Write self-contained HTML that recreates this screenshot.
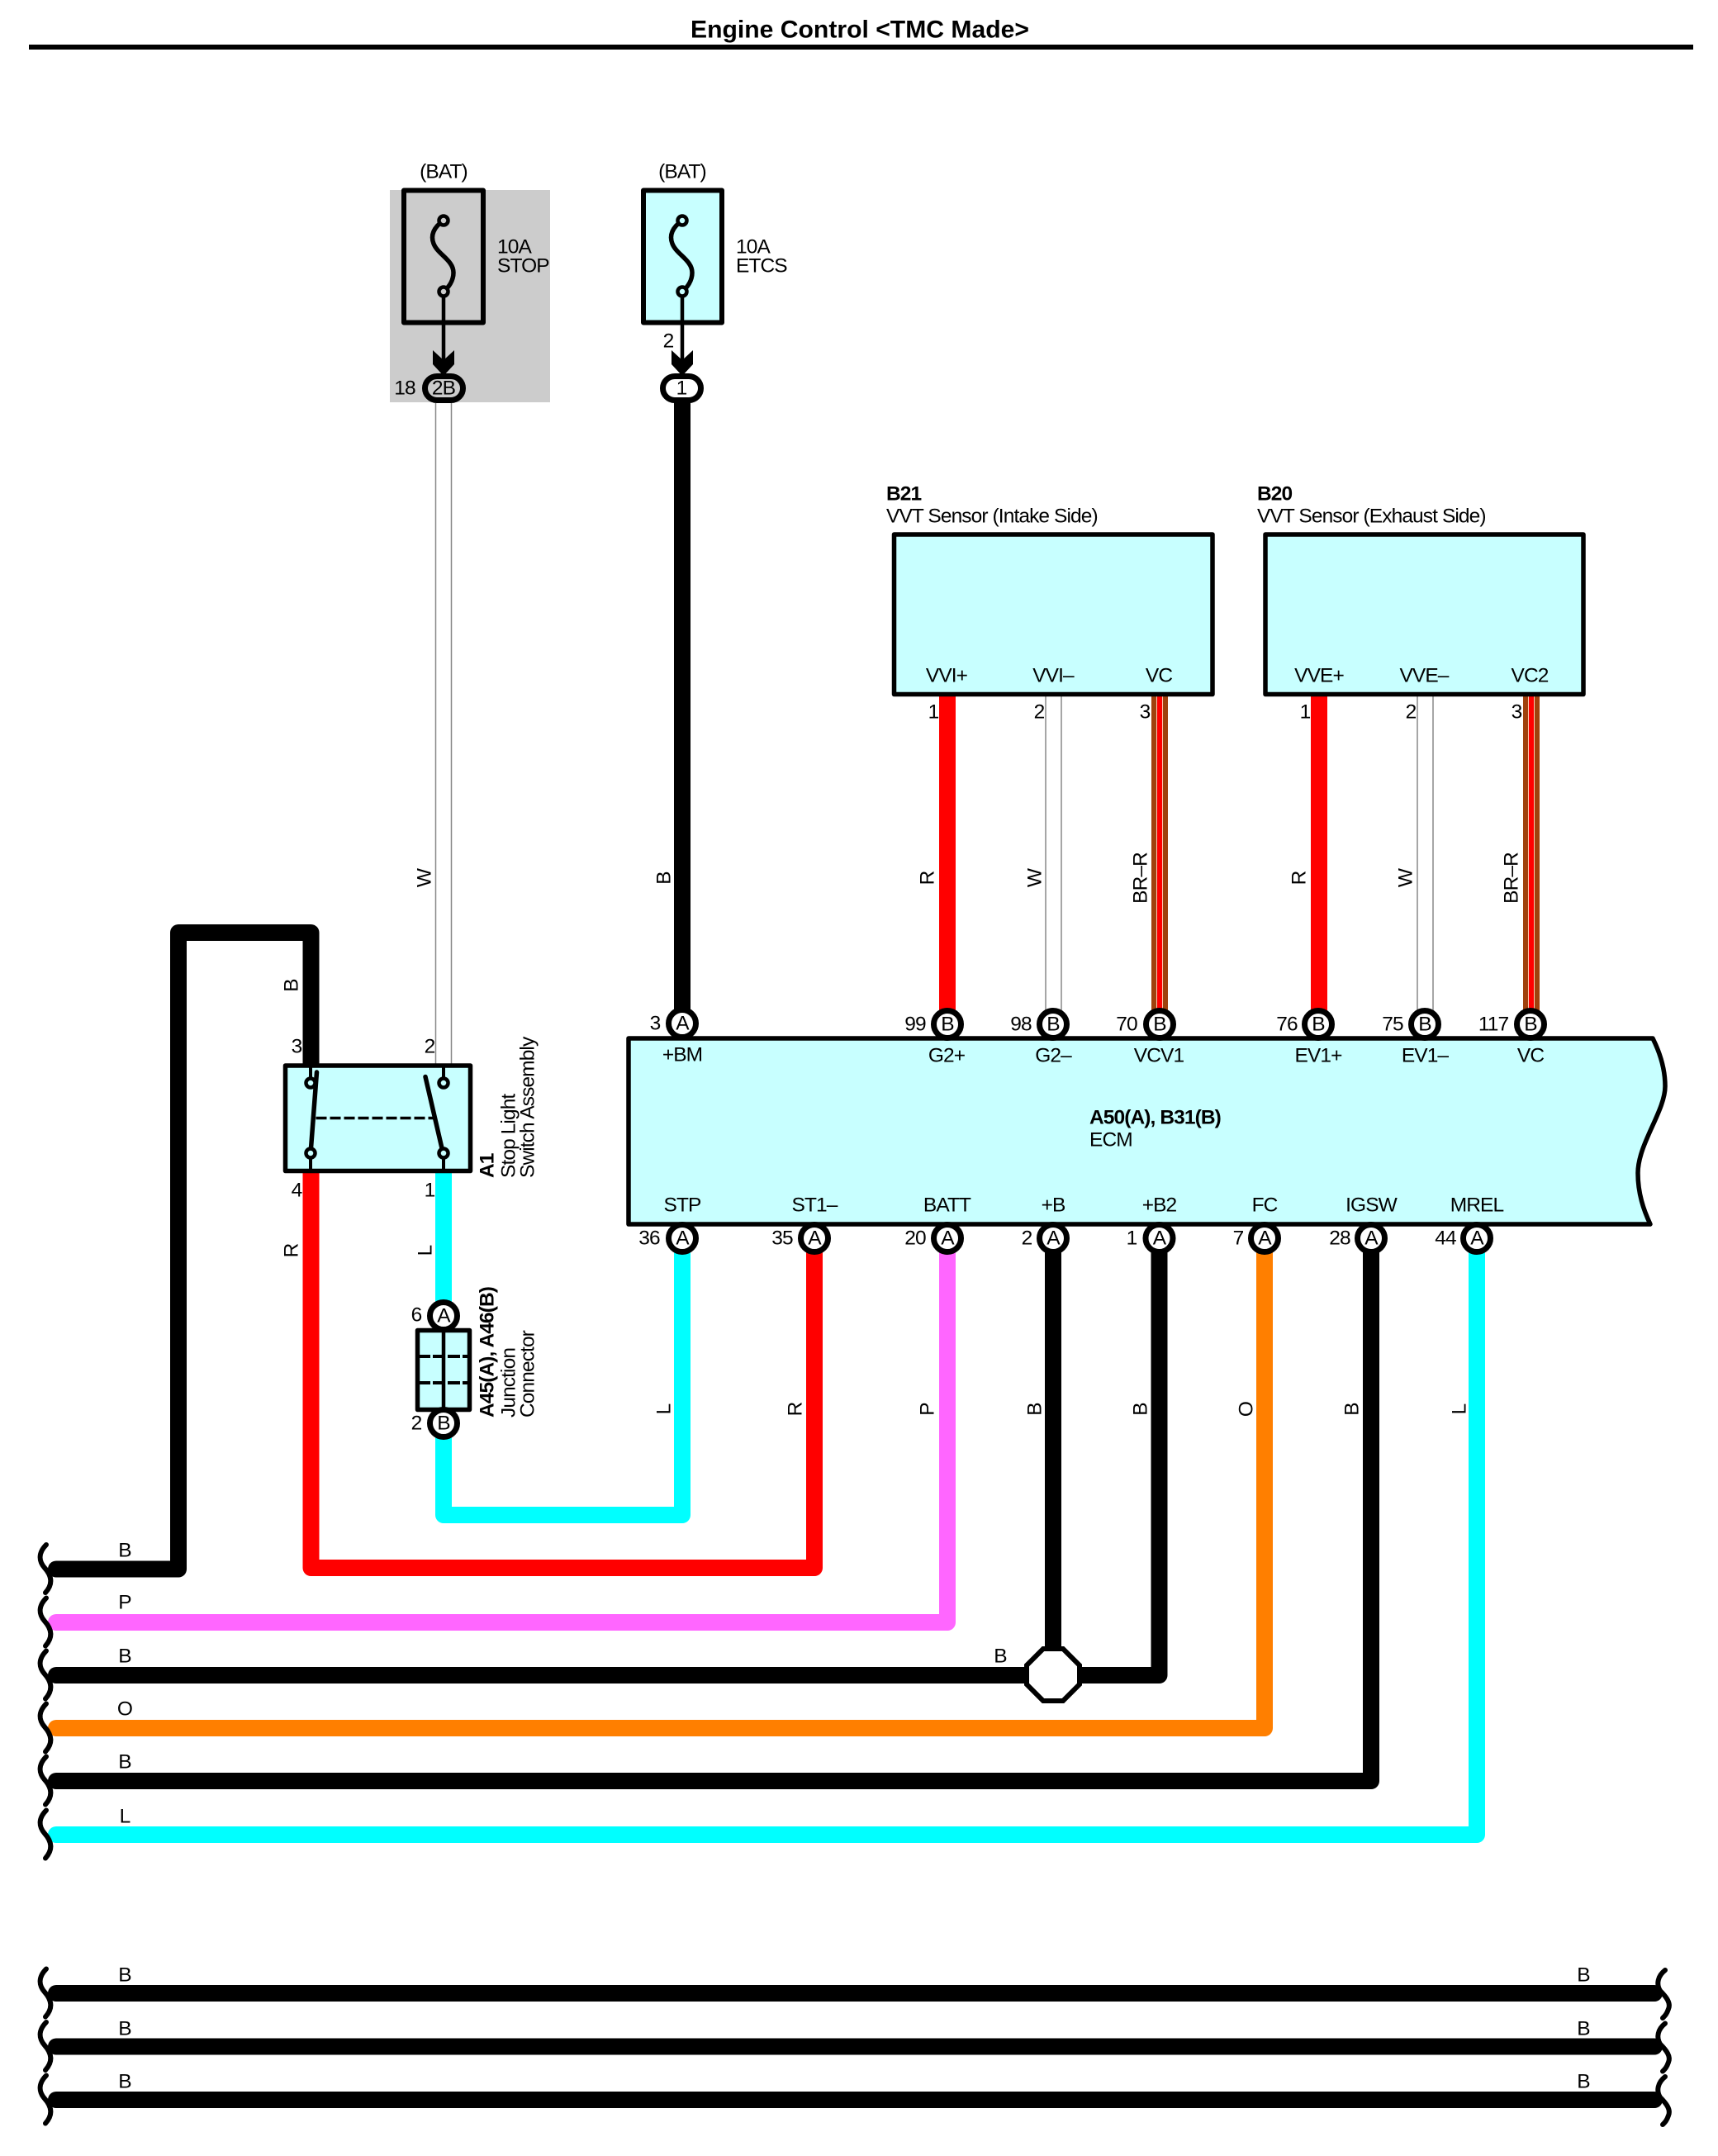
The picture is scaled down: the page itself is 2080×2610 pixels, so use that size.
<!DOCTYPE html>
<html>
<head>
<meta charset="utf-8">
<style>
html,body{margin:0;padding:0;background:#fff}
svg{display:block}
text{font-family:"Liberation Sans",sans-serif;font-size:24.5px;letter-spacing:-.9px;fill:#000;dominant-baseline:central;text-anchor:middle}
.s{text-anchor:start}
.b{font-weight:bold}
.w{fill:none;stroke-width:20;stroke-linejoin:round;stroke-linecap:round}
.box{fill:#c8ffff;stroke:#000;stroke-width:5.5;stroke-linejoin:round}
.c{fill:#fff;stroke:#000;stroke-width:7}
.l{fill:none;stroke:#000;stroke-width:5.5;stroke-linecap:round}
.curl{fill:none;stroke:#000;stroke-width:6;stroke-linecap:round}
.g{fill:none;stroke:#888;stroke-width:1.5}
</style>
</head>
<body>
<svg width="2080" height="2610" viewBox="0 0 2080 2610" xmlns="http://www.w3.org/2000/svg">
<rect width="2080" height="2610" fill="#fff"/>

<!-- title -->
<text x="1041" y="36" class="b" style="font-size:30px;letter-spacing:0" textLength="410" lengthAdjust="spacingAndGlyphs">Engine Control &lt;TMC Made&gt;</text>
<rect x="35" y="54" width="2015" height="6" fill="#000"/>

<!-- grey zone -->
<rect x="472" y="230" width="194" height="257" fill="#ccc"/>

<!-- wires top -->
<path class="g" d="M527.5 488V1288M546.5 488V1288"/>
<path class="w" stroke="#000" d="M826 480V1225"/>
<path class="w" stroke="#f00" d="M1147 843V1225"/>
<path class="g" d="M1266 843V1225M1285 843V1225"/>
<path class="w" stroke="#a0410d" d="M1404 843V1225"/>
<path fill="none" stroke="#ffc8b0" stroke-width="8" d="M1404 843V1225"/>
<path fill="none" stroke="#f00" stroke-width="6" d="M1404 843V1225"/>
<path class="w" stroke="#f00" d="M1597 843V1225"/>
<path class="g" d="M1716 843V1225M1735 843V1225"/>
<path class="w" stroke="#a0410d" d="M1854 843V1225"/>
<path fill="none" stroke="#ffc8b0" stroke-width="8" d="M1854 843V1225"/>
<path fill="none" stroke="#f00" stroke-width="6" d="M1854 843V1225"/>

<!-- wires bottom -->
<path class="w" stroke="#000" d="M68 1899.5H216V1129H376.5V1290"/>
<path class="w" stroke="#f00" d="M376.5 1418V1898H986V1515"/>
<path class="w" stroke="#0ff" d="M537 1418V1580M537 1735V1834H826V1515"/>
<path class="w" stroke="#f6f" d="M68 1964H1147V1515"/>
<path class="w" stroke="#000" d="M68 2028H1245M1275 1515V2000M1305 2028H1403.5V1515"/>
<path class="w" stroke="#ff7f00" d="M68 2092H1531V1515"/>
<path class="w" stroke="#000" d="M68 2156H1660V1515"/>
<path class="w" stroke="#0ff" d="M68 2221H1788V1515"/>
<path class="w" stroke="#000" d="M68 2413H2003M68 2477.5H2003M68 2542H2003"/>

<!-- left curls -->
<g>
<path class="curl" d="M56 1870C46 1880 47 1890 54 1898C63 1908 64 1918 55 1928"/>
<path class="curl" d="M56 1934.5C46 1944.5 47 1954.5 54 1962.5C63 1972.5 64 1982.5 55 1992.5"/>
<path class="curl" d="M56 1998.5C46 2008.5 47 2018.5 54 2026.5C63 2036.5 64 2046.5 55 2056.5"/>
<path class="curl" d="M56 2062.5C46 2072.5 47 2082.5 54 2090.5C63 2100.5 64 2110.5 55 2120.5"/>
<path class="curl" d="M56 2126.5C46 2136.5 47 2146.5 54 2154.5C63 2164.5 64 2174.5 55 2184.5"/>
<path class="curl" d="M56 2191.5C46 2201.5 47 2211.5 54 2219.5C63 2229.5 64 2239.5 55 2249.5"/>
<path class="curl" d="M56 2383.5C46 2393.5 47 2403.5 54 2411.5C63 2421.5 64 2431.5 55 2441.5"/>
<path class="curl" d="M56 2448C46 2458 47 2468 54 2476C63 2486 64 2496 55 2506"/>
<path class="curl" d="M56 2512.5C46 2522.5 47 2532.5 54 2540.5C63 2550.5 64 2560.5 55 2570.5"/>
</g>
<!-- right curls -->
<path class="curl" d="M2016 2385C2007 2392 2005 2402 2010 2410C2018 2418 2023 2425 2020 2432C2018 2438 2016 2440 2013 2443"/>
<path class="curl" d="M2016 2449.5C2007 2456.5 2005 2466.5 2010 2474.5C2018 2482.5 2023 2489.5 2020 2496.5C2018 2502.5 2016 2504.5 2013 2507.5"/>
<path class="curl" d="M2016 2514C2007 2521 2005 2531 2010 2539C2018 2547 2023 2554 2020 2561C2018 2567 2016 2569 2013 2572"/>

<!-- fuses -->
<rect x="489" y="230.5" width="96" height="160" fill="#ccc" stroke="#000" stroke-width="6" stroke-linejoin="round"/>
<path class="l" d="M537 267C525 275 521 285 525 295C530 308 549 315 549 330C549 340 543 348 537 353"/>
<path class="l" d="M537 359V445" style="stroke-width:4.5"/>
<circle cx="537" cy="267" r="5.5" fill="#ccc" stroke="#000" stroke-width="4.5"/>
<circle cx="537" cy="353" r="5.5" fill="#ccc" stroke="#000" stroke-width="4.5"/>
<polygon points="524,424 537,436 550,424 550,441 537,455 524,441"/>
<rect x="514.5" y="455.5" width="46" height="29" rx="14.5" ry="14.5" fill="#ccc" stroke="#000" stroke-width="7"/>
<text x="537" y="470">2B</text>
<text x="537" y="208">(BAT)</text>
<text x="602" y="299" class="s">10A</text>
<text x="602" y="322" class="s">STOP</text>
<text x="490" y="470">18</text>

<rect x="779" y="230.5" width="95" height="160" class="box" style="stroke-width:6"/>
<path class="l" d="M826 267C814 275 810 285 814 295C819 308 838 315 838 330C838 340 832 348 826 353"/>
<path class="l" d="M826 359V445" style="stroke-width:4.5"/>
<circle cx="826" cy="267" r="5.5" fill="#c8ffff" stroke="#000" stroke-width="4.5"/>
<circle cx="826" cy="353" r="5.5" fill="#c8ffff" stroke="#000" stroke-width="4.5"/>
<polygon points="813,424 826,436 839,424 839,441 826,455 813,441"/>
<rect x="802.5" y="455.5" width="46" height="29" rx="14.5" ry="14.5" class="c"/>
<text x="825" y="470">1</text>
<text x="826" y="208">(BAT)</text>
<text x="891" y="299" class="s">10A</text>
<text x="891" y="322" class="s">ETCS</text>
<text x="809" y="413">2</text>

<!-- VVT sensors -->
<text x="1073" y="598" class="s b">B21</text>
<text x="1073" y="625" class="s">VVT Sensor (Intake Side)</text>
<rect x="1082.5" y="647" width="385.5" height="193.5" class="box"/>
<text x="1146" y="818">VVI+</text><text x="1275" y="818">VVI–</text><text x="1403" y="818">VC</text>
<text x="1130" y="862">1</text><text x="1258" y="862">2</text><text x="1386" y="862">3</text>

<text x="1522" y="598" class="s b">B20</text>
<text x="1522" y="625" class="s">VVT Sensor (Exhaust Side)</text>
<rect x="1532" y="647" width="385" height="193.5" class="box"/>
<text x="1597" y="818">VVE+</text><text x="1724" y="818">VVE–</text><text x="1852" y="818">VC2</text>
<text x="1580" y="862">1</text><text x="1708" y="862">2</text><text x="1836" y="862">3</text>

<!-- ECM -->
<path class="box" d="M761 1257H2001C2010 1275 2016 1295 2016 1315C2016 1345 1983 1385 1983 1420C1983 1445 1990 1465 1998 1482H761Z"/>
<text x="1319" y="1353" class="s b">A50(A), B31(B)</text>
<text x="1319" y="1380" class="s">ECM</text>

<text x="826" y="1277">+BM</text>
<text x="1146" y="1278">G2+</text><text x="1275" y="1278">G2–</text><text x="1403" y="1278">VCV1</text>
<text x="1596" y="1278">EV1+</text><text x="1725" y="1278">EV1–</text><text x="1853" y="1278">VC</text>

<text x="826" y="1459">STP</text><text x="986" y="1459">ST1–</text><text x="1146.5" y="1459">BATT</text>
<text x="1275" y="1459">+B</text><text x="1403.5" y="1459">+B2</text><text x="1531" y="1459">FC</text>
<text x="1660" y="1459">IGSW</text><text x="1788" y="1459">MREL</text>

<!-- ECM top connectors -->
<circle cx="826" cy="1239" r="16.5" class="c"/><text x="826" y="1239">A</text><text x="793" y="1239">3</text>
<circle cx="1147" cy="1240" r="16.5" class="c"/><text x="1147" y="1240">B</text><text x="1108" y="1240">99</text>
<circle cx="1275" cy="1240" r="16.5" class="c"/><text x="1275" y="1240">B</text><text x="1236" y="1240">98</text>
<circle cx="1404" cy="1240" r="16.5" class="c"/><text x="1404" y="1240">B</text><text x="1364" y="1240">70</text>
<circle cx="1596" cy="1240" r="16.5" class="c"/><text x="1596" y="1240">B</text><text x="1558" y="1240">76</text>
<circle cx="1725" cy="1240" r="16.5" class="c"/><text x="1725" y="1240">B</text><text x="1686" y="1240">75</text>
<circle cx="1853" cy="1240" r="16.5" class="c"/><text x="1853" y="1240">B</text><text x="1808" y="1240">117</text>

<!-- ECM bottom connectors -->
<circle cx="826" cy="1499" r="16.5" class="c"/><text x="826" y="1499">A</text><text x="786" y="1499">36</text>
<circle cx="986" cy="1499" r="16.5" class="c"/><text x="986" y="1499">A</text><text x="947" y="1499">35</text>
<circle cx="1147" cy="1499" r="16.5" class="c"/><text x="1147" y="1499">A</text><text x="1108" y="1499">20</text>
<circle cx="1275" cy="1499" r="16.5" class="c"/><text x="1275" y="1499">A</text><text x="1243" y="1499">2</text>
<circle cx="1403.5" cy="1499" r="16.5" class="c"/><text x="1403.5" y="1499">A</text><text x="1370" y="1499">1</text>
<circle cx="1531" cy="1499" r="16.5" class="c"/><text x="1531" y="1499">A</text><text x="1499" y="1499">7</text>
<circle cx="1660" cy="1499" r="16.5" class="c"/><text x="1660" y="1499">A</text><text x="1622" y="1499">28</text>
<circle cx="1788" cy="1499" r="16.5" class="c"/><text x="1788" y="1499">A</text><text x="1750" y="1499">44</text>

<!-- switch A1 -->
<rect x="345.5" y="1290" width="224" height="127.5" class="box"/>
<path class="l" d="M376 1290V1304M537 1290V1304M376 1403V1417M537 1403V1417" style="stroke-width:4;stroke-linecap:butt"/>
<circle cx="376" cy="1311" r="5.5" fill="#c8ffff" stroke="#000" stroke-width="4.5"/>
<circle cx="537" cy="1311" r="5.5" fill="#c8ffff" stroke="#000" stroke-width="4.5"/>
<circle cx="376" cy="1396" r="5.5" fill="#c8ffff" stroke="#000" stroke-width="4.5"/>
<circle cx="537" cy="1396" r="5.5" fill="#c8ffff" stroke="#000" stroke-width="4.5"/>
<path class="l" d="M383.5 1298L376.5 1390M515 1303.5L535 1390"/>
<path fill="none" stroke="#000" stroke-width="3.5" stroke-dasharray="13 4" d="M382.5 1353.5H525"/>
<text x="359" y="1267">3</text><text x="520" y="1267">2</text>
<text x="359" y="1441">4</text><text x="520" y="1441">1</text>
<g transform="translate(590,1426) rotate(-90)"><text class="s b">A1</text></g>
<g transform="translate(616,1426) rotate(-90)"><text class="s">Stop Light</text></g>
<g transform="translate(639,1426) rotate(-90)"><text class="s">Switch Assembly</text></g>

<!-- junction connector -->
<rect x="505.5" y="1610.5" width="63" height="96" class="box"/>
<path fill="none" stroke="#000" stroke-width="4.5" d="M537 1610V1707"/>
<path fill="none" stroke="#000" stroke-width="4" stroke-dasharray="15 3" d="M506 1642H568M506 1674H568"/>
<circle cx="537" cy="1593" r="16.5" class="c"/><text x="537" y="1593">A</text><text x="504" y="1592">6</text>
<circle cx="537" cy="1723" r="16.5" class="c"/><text x="537" y="1723">B</text><text x="504" y="1723">2</text>
<g transform="translate(590,1716) rotate(-90)"><text class="s b">A45(A), A46(B)</text></g>
<g transform="translate(616,1716) rotate(-90)"><text class="s">Junction</text></g>
<g transform="translate(639,1716) rotate(-90)"><text class="s">Connector</text></g>

<!-- octagon junction -->
<polygon points="1263,1996 1287,1996 1307,2016 1307,2039 1287,2059 1263,2059 1243,2039 1243,2016" fill="#fff" stroke="#000" stroke-width="6"/>

<!-- rotated wire labels -->
<g transform="translate(514,1063) rotate(-90)"><text>W</text></g>
<g transform="translate(804,1063) rotate(-90)"><text>B</text></g>
<g transform="translate(1123,1063) rotate(-90)"><text>R</text></g>
<g transform="translate(1253,1063) rotate(-90)"><text>W</text></g>
<g transform="translate(1381,1063) rotate(-90)"><text>BR–R</text></g>
<g transform="translate(1573,1063) rotate(-90)"><text>R</text></g>
<g transform="translate(1702,1063) rotate(-90)"><text>W</text></g>
<g transform="translate(1830,1063) rotate(-90)"><text>BR–R</text></g>
<g transform="translate(353,1193) rotate(-90)"><text>B</text></g>
<g transform="translate(353,1514) rotate(-90)"><text>R</text></g>
<g transform="translate(515,1514) rotate(-90)"><text>L</text></g>
<g transform="translate(804,1706) rotate(-90)"><text>L</text></g>
<g transform="translate(963,1706) rotate(-90)"><text>R</text></g>
<g transform="translate(1123,1706) rotate(-90)"><text>P</text></g>
<g transform="translate(1253,1706) rotate(-90)"><text>B</text></g>
<g transform="translate(1381,1706) rotate(-90)"><text>B</text></g>
<g transform="translate(1509,1706) rotate(-90)"><text>O</text></g>
<g transform="translate(1637,1706) rotate(-90)"><text>B</text></g>
<g transform="translate(1767,1706) rotate(-90)"><text>L</text></g>

<!-- horizontal wire labels -->
<text x="151" y="1877">B</text>
<text x="151" y="1940">P</text>
<text x="151" y="2005">B</text>
<text x="151" y="2069">O</text>
<text x="151" y="2133">B</text>
<text x="151" y="2199">L</text>
<text x="1211" y="2005">B</text>
<text x="151" y="2391">B</text>
<text x="151" y="2456">B</text>
<text x="151" y="2520">B</text>
<text x="1917" y="2391">B</text>
<text x="1917" y="2456">B</text>
<text x="1917" y="2520">B</text>
</svg>
</body>
</html>
